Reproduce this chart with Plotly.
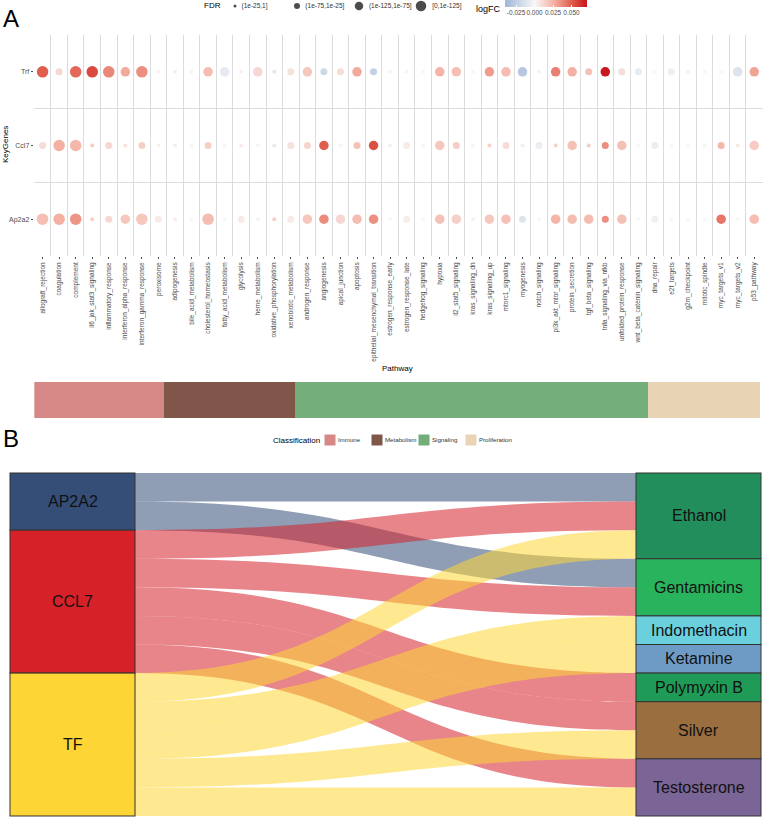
import plotly.graph_objects as go

# ---------------- Panel A data ----------------
pathways = [
    "allograft_rejection", "coagulation", "complement", "il6_jak_stat3_signaling",
    "inflammatory_response", "interferon_alpha_response", "interferon_gamma_response",
    "peroxisome", "adipogenesis", "bile_acid_metabolism", "cholesterol_homeostasis",
    "fatty_acid_metabolism", "glycolysis", "heme_metabolism", "oxidative_phosphorylation",
    "xenobiotic_metabolism", "androgen_response", "angiogenesis", "apical_junction",
    "apoptosis", "epithelial_mesenchymal_transition", "estrogen_response_early",
    "estrogen_response_late", "hedgehog_signaling", "hypoxia", "il2_stat5_signaling",
    "kras_signaling_dn", "kras_signaling_up", "mtorc1_signaling", "myogenesis",
    "notch_signaling", "pi3k_akt_mtor_signaling", "protein_secretion", "tgf_beta_signaling",
    "tnfa_signaling_via_nfkb", "unfolded_protein_response", "wnt_beta_catenin_signaling",
    "dna_repair", "e2f_targets", "g2m_checkpoint", "mitotic_spindle", "myc_targets_v1",
    "myc_targets_v2", "p53_pathway",
]
genes = ["Ap2a2", "Ccl7", "Trf"]  # bottom to top

trf_logfc = [0.050, 0.012, 0.047, 0.056, 0.038, 0.028, 0.036, 0.002, -0.004, 0.001,
             0.022, -0.008, 0.002, 0.012, -0.010, 0.008, 0.018, -0.020, 0.010, 0.028,
             -0.024, 0.001, 0.001, 0.000, 0.025, 0.021, 0.000, 0.032, 0.022, -0.030,
             0.001, 0.040, 0.026, 0.020, 0.070, 0.010, -0.007, 0.000, -0.005, 0.002,
             0.000, 0.000, -0.012, 0.030]
trf_fdr = [4, 2, 4, 4, 4, 3, 4, 1, 1, 1, 3, 3, 1, 3, 1, 2, 3, 2, 2, 3, 2, 1, 1, 1, 3, 3,
           1, 3, 3, 3, 1, 3, 3, 2, 3, 2, 2, 1, 2, 1, 1, 1, 3, 3]

ccl7_logfc = [0.010, 0.026, 0.024, 0.016, 0.012, 0.008, 0.015, 0.002, -0.004, 0.001,
              0.015, 0.001, 0.005, 0.001, -0.008, 0.008, 0.013, 0.050, 0.001, 0.020,
              0.054, 0.003, 0.005, 0.001, 0.018, 0.016, 0.001, 0.014, 0.010, -0.005,
              -0.006, 0.014, 0.020, 0.016, 0.036, 0.020, 0.000, -0.006, 0.000, 0.000,
              -0.002, 0.024, 0.005, 0.016]
ccl7_fdr = [2, 4, 4, 1, 2, 1, 2, 1, 1, 1, 2, 1, 1, 1, 1, 2, 2, 3, 1, 2, 3, 1, 2, 1, 3, 2,
            1, 1, 2, 1, 2, 1, 3, 1, 2, 3, 1, 2, 1, 1, 1, 2, 1, 3]

ap2a2_logfc = [0.021, 0.026, 0.034, 0.014, 0.012, 0.018, 0.018, 0.005, 0.003, 0.000,
               0.022, 0.000, 0.005, 0.001, 0.015, 0.005, 0.018, 0.037, 0.012, 0.022,
               0.036, 0.000, 0.004, 0.000, 0.020, 0.015, -0.002, 0.018, 0.020, -0.012,
               0.000, 0.025, 0.022, 0.022, 0.036, 0.020, 0.000, -0.004, 0.000, 0.000,
               0.000, 0.043, 0.000, 0.022]
ap2a2_fdr = [4, 4, 4, 1, 2, 3, 4, 2, 1, 1, 4, 1, 2, 1, 1, 2, 3, 3, 3, 3, 3, 1, 2, 1, 3, 3,
             1, 3, 3, 2, 1, 3, 3, 3, 2, 3, 1, 2, 1, 1, 1, 3, 1, 3]

fdr_labels = ["(1e-25,1]", "(1e-75,1e-25]", "(1e-125,1e-75]", "[0,1e-125]"]

class_names = ["Immune", "Metabolism", "Signaling", "Proliferation"]
class_counts = [7, 7, 19, 6]

# ---------------- Panel B data ----------------
left_nodes = ["AP2A2", "CCL7", "TF"]
right_nodes = ["Ethanol", "Gentamicins", "Indomethacin", "Ketamine", "Polymyxin B",
               "Silver", "Testosterone"]
link_source = ["AP2A2", "AP2A2",
               "CCL7", "CCL7", "CCL7", "CCL7", "CCL7",
               "TF", "TF", "TF", "TF", "TF"]
link_target = ["Ethanol", "Gentamicins",
               "Ethanol", "Gentamicins", "Polymyxin B", "Silver", "Testosterone",
               "Ethanol", "Indomethacin", "Ketamine", "Silver", "Testosterone"]
link_value = [1, 1, 1, 1, 1, 1, 1, 1, 1, 1, 1, 1]

# ---------------- styles ----------------
W, H = 763, 818
FONT = "Liberation Sans, Arial, sans-serif"
fdr_sizes = [4, 7, 9.5, 11.5]
class_colors = ["#D58886", "#80564B", "#72AD7A", "#E8D4B4"]
node_colors = {
    "AP2A2": "#344E78", "CCL7": "#D62129", "TF": "#FDD535",
    "Ethanol": "#218E5B", "Gentamicins": "#29B35D", "Indomethacin": "#6AD0DE",
    "Ketamine": "#6E9BC6", "Polymyxin B": "#1F9B57", "Silver": "#9A6E3E",
    "Testosterone": "#7B6496",
}
link_colors = {"AP2A2": "rgba(52,78,120,0.55)", "CCL7": "rgba(214,33,41,0.55)",
               "TF": "rgba(253,213,53,0.55)"}
NBSP = "\u00a0"

def px_x(v):
    return v / W

def px_y(v):
    return 1 - v / H

fig = go.Figure()

# ---- dot plot ----
gene_data = {"Trf": (trf_logfc, trf_fdr), "Ccl7": (ccl7_logfc, ccl7_fdr),
             "Ap2a2": (ap2a2_logfc, ap2a2_fdr)}
for k, lab in enumerate(fdr_labels):
    xs, ys, cs = [], [], []
    for g, (lfc, fdr) in gene_data.items():
        for p, v, f in zip(pathways, lfc, fdr):
            if f == k + 1:
                xs.append(p)
                ys.append(g)
                cs.append(v)
    fig.add_trace(go.Scatter(
        x=xs, y=ys, mode="markers", showlegend=False, hoverinfo="skip",
        marker=dict(size=fdr_sizes[k], color=cs, coloraxis="coloraxis", line_width=0),
        xaxis="x", yaxis="y"))

# invisible traces so that overlay axes carry centred tick marks
fig.add_trace(go.Scatter(x=pathways, y=[genes[0]] * len(pathways), mode="none",
                         xaxis="x5", yaxis="y5", showlegend=False, hoverinfo="skip"))
fig.add_trace(go.Scatter(x=[pathways[0]] * len(genes), y=genes, mode="none",
                         xaxis="x5", yaxis="y5", showlegend=False, hoverinfo="skip"))

# ---- FDR size key (drawn as a small scatter row) ----
fig.add_trace(go.Scatter(
    x=fdr_labels, y=[0] * len(fdr_labels), mode="markers+text",
    text=[NBSP * 2 + t for t in fdr_labels],
    textposition="middle right", textfont=dict(size=6.5, color="#333333", family=FONT),
    marker=dict(size=[s - 1 for s in fdr_sizes], color="black", line_width=0),
    xaxis="x3", yaxis="y3", showlegend=False, hoverinfo="skip", cliponaxis=False))

# ---- classification bar ----
for name, cnt, col in zip(class_names, class_counts, class_colors):
    fig.add_trace(go.Bar(
        x=[cnt], y=["c"], orientation="h", name=name, marker=dict(color=col, line_width=0),
        xaxis="x2", yaxis="y2", showlegend=False, hoverinfo="skip"))

# ---- classification key ----
fig.add_trace(go.Scatter(
    x=class_names, y=[0] * len(class_names), mode="markers+text", text=class_names,
    textposition="middle right", textfont=dict(size=6.2, color="#333333", family=FONT),
    marker=dict(size=11, symbol="square", color=class_colors, line_width=0),
    xaxis="x4", yaxis="y4", showlegend=False, hoverinfo="skip", cliponaxis=False))

# ---- sankey ----
all_nodes = left_nodes + right_nodes
idx = {n: i for i, n in enumerate(all_nodes)}
node_tot = {n: 0 for n in all_nodes}
for s, t, v in zip(link_source, link_target, link_value):
    node_tot[s] += v
    node_tot[t] += v
total = sum(link_value)

sk_x0, sk_x1 = 10, 761
sk_y0, sk_y1 = 473, 816
thick = 125
frac = (thick / 2) / (sk_x1 - sk_x0)

node_x, node_y = [], []
ann_pos = []
for col_nodes, xc in ((left_nodes, frac), (right_nodes, 1 - frac)):
    cum = 0
    for n in col_nodes:
        c = (cum + node_tot[n] / 2) / total
        node_x.append(xc)
        node_y.append(c)
        ann_pos.append((n, xc, c))
        cum += node_tot[n]

fig.add_trace(go.Sankey(
    domain=dict(x=[px_x(sk_x0), px_x(sk_x1)], y=[px_y(sk_y1), px_y(sk_y0)]),
    arrangement="fixed",
    node=dict(label=all_nodes, pad=0, thickness=thick,
              color=[node_colors[n] for n in all_nodes],
              line=dict(color="#333333", width=1),
              x=node_x, y=node_y, hoverinfo="skip"),
    link=dict(source=[idx[s] for s in link_source], target=[idx[t] for t in link_target],
              value=link_value, color=[link_colors[s] for s in link_source],
              hoverinfo="skip"),
    textfont=dict(color="rgba(0,0,0,0)", size=1),
))

def ann(text, x, y, size, color="black", xanchor="center", angle=0):
    return dict(text=text, x=px_x(x), y=px_y(y), xref="paper", yref="paper",
                xanchor=xanchor, yanchor="middle", showarrow=False, textangle=angle,
                font=dict(size=size, color=color, family=FONT))

annotations = []
for n, xc, c in ann_pos:
    xpx = sk_x0 + xc * (sk_x1 - sk_x0)
    ypx = sk_y0 + c * (sk_y1 - sk_y0)
    annotations.append(ann(n, xpx, ypx, 16, "#111111"))

annotations += [
    ann("A", 11, 19, 24),
    ann("B", 11, 438, 24),
    ann("KeyGenes", 5, 145, 8, angle=-90),
    ann("Pathway", 398, 368, 8),
    ann("logFC", 503, 9, 9, xanchor="right"),
    ann("FDR", 202, 6, 8, xanchor="left"),
    ann("Classification", 322, 440, 8, xanchor="right"),
]

neg, pos = -0.040, 0.071
def nrm(v):
    return (v - neg) / (pos - neg)

colorscale = [
    [0.0, "#A0B7D7"],
    [nrm(0.0), "#F7F7F7"],
    [nrm(0.025), "#F5B4A7"],
    [nrm(0.05), "#E05E4E"],
    [1.0, "#C8141B"],
]

grid = "#DCDCDC"
hidden = dict(visible=False, fixedrange=True)
fig.update_layout(
    width=W, height=H, margin=dict(l=0, r=0, t=0, b=0, autoexpand=False),
    paper_bgcolor="white", plot_bgcolor="white",
    font=dict(family=FONT, color="#4D4D4D"),
    barmode="stack", bargap=0, showlegend=False,
    xaxis=dict(domain=[px_x(34.3), px_x(762.5)], anchor="y", type="category",
               categoryorder="array", categoryarray=pathways, tickson="boundaries",
               range=[-0.5, len(pathways) - 0.5],
               showgrid=True, gridcolor=grid, gridwidth=1, tickangle=-90,
               tickfont=dict(size=6.5, color="#4D4D4D"), ticks="", ticklabelstandoff=4,
               automargin=False, zeroline=False, showline=False),
    yaxis=dict(domain=[px_y(256), px_y(35)], anchor="x", type="category",
               categoryorder="array", categoryarray=genes, tickson="boundaries",
               range=[-0.5, len(genes) - 0.5],
               showgrid=True, gridcolor=grid, gridwidth=1,
               tickfont=dict(size=7, color="#4D4D4D"), ticks="", ticklabelstandoff=4,
               automargin=False, zeroline=False, showline=False),
    xaxis5=dict(overlaying="x", anchor="y", side="bottom", type="category",
                categoryorder="array", categoryarray=pathways,
                range=[-0.5, len(pathways) - 0.5], showgrid=False, zeroline=False,
                showticklabels=False, ticks="outside", ticklen=2, tickcolor="#4D4D4D",
                automargin=False, fixedrange=True),
    yaxis5=dict(overlaying="y", anchor="x", side="left", type="category",
                categoryorder="array", categoryarray=genes,
                range=[-0.5, len(genes) - 0.5], showgrid=False, zeroline=False,
                showticklabels=False, ticks="outside", ticklen=2, tickcolor="#4D4D4D",
                automargin=False, fixedrange=True),
    xaxis2=dict(domain=[px_x(34.3), px_x(760)], anchor="y2", range=[0, sum(class_counts)],
                **hidden),
    yaxis2=dict(domain=[px_y(418), px_y(382)], anchor="x2", range=[-0.5, 0.5], **hidden),
    xaxis3=dict(domain=[px_x(204), px_x(452)], anchor="y3", type="category",
                categoryorder="array", categoryarray=fdr_labels,
                range=[-0.5, len(fdr_labels) - 0.5], **hidden),
    yaxis3=dict(domain=[px_y(12), px_y(0)], anchor="x3", range=[-1, 1], **hidden),
    xaxis4=dict(domain=[px_x(306.5), px_x(494.5)], anchor="y4", type="category",
                categoryorder="array", categoryarray=class_names,
                range=[-0.5, len(class_names) - 0.5], **hidden),
    yaxis4=dict(domain=[px_y(446), px_y(434)], anchor="x4", range=[-1, 1], **hidden),
    coloraxis=dict(
        colorscale=colorscale, cmin=neg, cmax=pos,
        colorbar=dict(orientation="h", x=px_x(546), xanchor="center", y=1.0,
                      yanchor="top", ypad=0, xpad=0, len=82, lenmode="pixels",
                      thickness=7, outlinewidth=0, tickangle=0,
                      tickvals=[-0.025, 0.0, 0.025, 0.05],
                      ticktext=["-0.025", "0.000", "0.025", "0.050"],
                      tickfont=dict(size=6.5, color="#4D4D4D"),
                      ticks="inside", ticklen=2, tickcolor="white")),
    annotations=annotations,
)

fig.write_html("out.html")
